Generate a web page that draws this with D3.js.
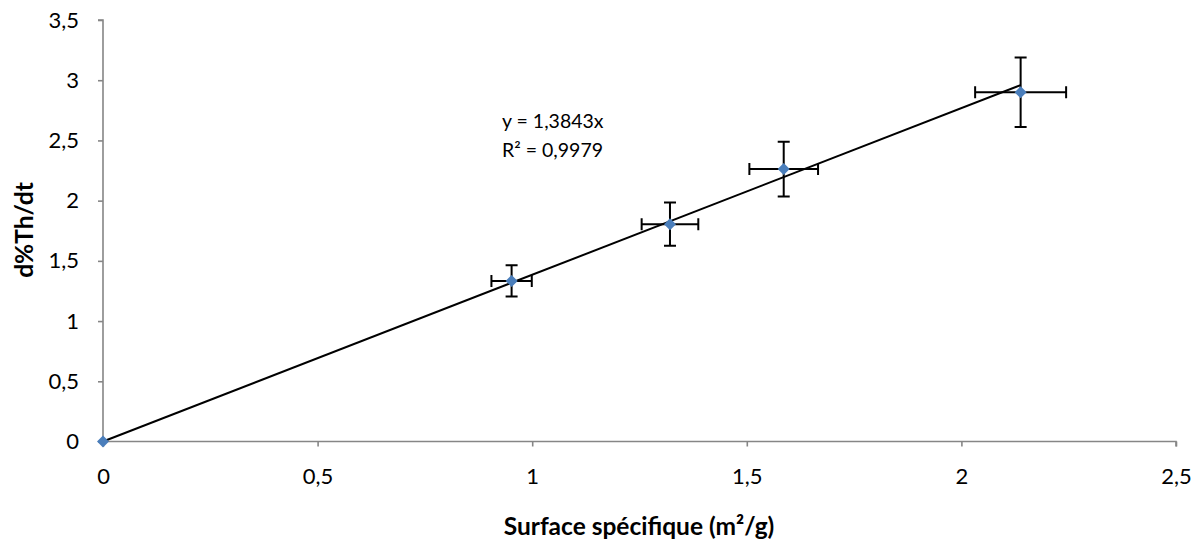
<!DOCTYPE html>
<html><head><meta charset="utf-8">
<script src="https://cdn.jsdelivr.net/npm/d3@7"></script>
<style>
html,body{margin:0;padding:0;background:#fff;}
svg{display:block;}
text{font-family:Lato, "Open Sans", sans-serif;fill:#000;}
</style></head><body>
<svg id="c" width="1203" height="541"></svg>
<script>
// Data
const xValues = [0, 0.952, 1.321, 1.586, 2.138];
const yValues = [0, 1.333, 1.805, 2.262, 2.900];
const xErrors = [0, 0.047, 0.066, 0.080, 0.106];
const yErrors = [0, 0.130, 0.180, 0.228, 0.289];
const slope = 1.3843;
const equationLines = ["y = 1,3843x", "R² = 0,9979"];
const xTicks = [0, 0.5, 1, 1.5, 2, 2.5];
const yTicks = [0, 0.5, 1, 1.5, 2, 2.5, 3, 3.5];
const xTitle = "Surface spécifique (m²/g)";
const yTitle = "d%Th/dt";

const svg = d3.select("#c");
const x = d3.scaleLinear().domain([0, 2.5]).range([103, 1176]);
const y = d3.scaleLinear().domain([0, 3.5]).range([441.5, 20]);
const fmt = d => String(d).replace(".", ",");
const axisColor = "#868686";

// Y axis
const gy = svg.append("g").attr("transform", `translate(${x(0)},0)`)
  .call(d3.axisLeft(y).tickValues(yTicks).tickFormat(fmt).tickSize(5).tickPadding(19));
// X axis
const gx = svg.append("g").attr("transform", `translate(0,${y(0)})`)
  .call(d3.axisBottom(x).tickValues(xTicks).tickFormat(fmt).tickSize(5).tickPadding(30));
[gx, gy].forEach(g => {
  g.select(".domain").attr("stroke", axisColor).attr("stroke-width", 1.6);
  g.selectAll(".tick line").attr("stroke", axisColor).attr("stroke-width", 1.6);
  g.selectAll(".tick text").style("font-size", "22px").attr("fill", "#000");
});
gy.select(".domain").attr("d", `M-5,${y(3.5)}H0V${y(0)}H-5`);
gx.select(".domain").attr("d", `M${x(0)},5V0H${x(2.5)}V5`);
gx.selectAll(".tick text").attr("dy", "0.35em");

// Trendline
const xmax = d3.max(xValues);
svg.append("line")
  .attr("x1", x(0)).attr("y1", y(0))
  .attr("x2", x(xmax)).attr("y2", y(slope * xmax))
  .attr("stroke", "#000").attr("stroke-width", 2);

// Error bars
const pts = xValues.map((v, i) => ({x: v, y: yValues[i], ex: xErrors[i], ey: yErrors[i]}));
const eb = svg.append("g").attr("stroke", "#000").attr("stroke-width", 2).attr("fill", "none");
const cap = 6;
pts.filter(p => p.ex > 0 || p.ey > 0).forEach(p => {
  const cx = x(p.x), cy = y(p.y);
  const x0 = x(p.x - p.ex), x1 = x(p.x + p.ex);
  const y0 = y(p.y - p.ey), y1 = y(p.y + p.ey);
  eb.append("path").attr("d",
    `M${x0},${cy}H${x1}M${x0},${cy-cap}V${cy+cap}M${x1},${cy-cap}V${cy+cap}` +
    `M${cx},${y0}V${y1}M${cx-cap},${y0}H${cx+cap}M${cx-cap},${y1}H${cx+cap}`);
});

// Markers
svg.append("g").selectAll("path").data(pts).join("path")
  .attr("transform", d => `translate(${x(d.x)},${y(d.y)})`)
  .attr("d", "M0,-6L6,0L0,6L-6,0Z")
  .attr("fill", "#4a7ebb");

// Equation label
const eq = svg.append("text").attr("x", 502).attr("y", 128).style("font-size", "19.5px");
equationLines.forEach((t, i) => eq.append("tspan").attr("x", 502).attr("dy", i === 0 ? 0 : 29).text(t));

// Axis titles
svg.append("text").attr("x", 639).attr("y", 535).attr("text-anchor", "middle")
  .style("font-size", "24.5px").style("font-weight", "bold").text(xTitle);
svg.append("text").attr("transform", "translate(33,230) rotate(-90)").attr("text-anchor", "middle")
  .style("font-size", "24.5px").style("font-weight", "bold").text(yTitle);
</script>
</body></html>
